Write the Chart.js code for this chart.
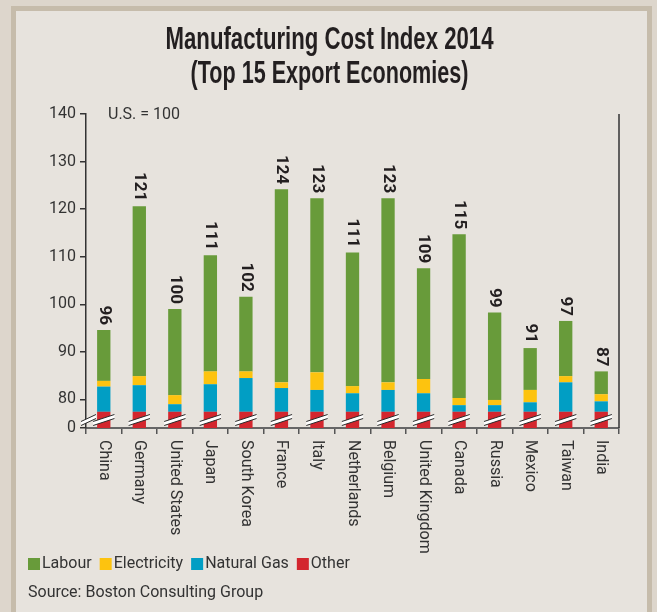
<!DOCTYPE html>
<html>
<head>
<meta charset="utf-8">
<script src="https://cdn.jsdelivr.net/npm/chart.js@4/dist/chart.umd.min.js"></script>
<style>
  html, body { margin: 0; padding: 0; }
  body { width: 657px; height: 612px; overflow: hidden; background: #ddd6cc; position: relative; }
  #frame { position: absolute; left: 11px; top: 6px; width: 641px; height: 606px; box-sizing: border-box;
           border-left: 5px solid #c6bcab; border-right: 5px solid #c6bcab; border-top: 5px solid #c6bcab;
           background: #e7e3dd; }
  #c { position: absolute; left: 0; top: 0; }
</style>
</head>
<body>
<div id="frame"></div>
<canvas id="c" width="657" height="612"></canvas>
<script>
const categories = ['China','Germany','United States','Japan','South Korea','France','Italy','Netherlands','Belgium','United Kingdom','Canada','Russia','Mexico','Taiwan','India'];
const other       = [77.4, 77.4, 77.4, 77.4, 77.4, 77.4, 77.4, 77.4, 77.4, 77.4, 77.4, 77.4, 77.4, 77.4, 77.4];
const naturalGas  = [5.3, 5.6, 1.6, 5.8, 7.1, 5.0, 4.6, 3.9, 4.6, 3.9, 1.4, 1.4, 2.0, 6.2, 2.2];
const electricity = [1.2, 1.9, 1.9, 2.7, 1.4, 1.2, 3.7, 1.5, 1.6, 3.0, 1.5, 1.1, 2.6, 1.3, 1.5];
const labour      = [10.7, 35.7, 18.1, 24.4, 15.7, 40.6, 36.6, 28.1, 38.7, 23.3, 34.4, 18.4, 8.8, 11.6, 4.8];
const totals      = [96, 121, 100, 111, 102, 124, 123, 111, 123, 109, 115, 99, 91, 97, 87];
const yTickValues = [74, 80, 90, 100, 110, 120, 130, 140];
const yTickLabels = ['0', '80', '90', '100', '110', '120', '130', '140'];
const titleLines  = ['Manufacturing Cost Index 2014', '(Top 15 Export Economies)'];
const seriesNames = ['Labour', 'Electricity', 'Natural Gas', 'Other'];
const seriesColors = { 'Labour': '#689b3a', 'Electricity': '#fdc30f', 'Natural Gas': '#019ec4', 'Other': '#d3262e' };
const noteText = 'U.S. = 100';
const sourceText = 'Source: Boston Consulting Group';

const TEXT = '#333333';
const FONT = 'Roboto, "Liberation Sans", sans-serif';

const decor = {
  id: 'decor',
  afterDraw(chart) {
    const ctx = chart.ctx;
    const area = chart.chartArea;
    ctx.save();
    // Title
    ctx.fillStyle = '#231f20';
    ctx.font = 'bold 32px "Liberation Sans Narrow", "Liberation Sans", sans-serif';
    ctx.textAlign = 'center';
    ctx.textBaseline = 'alphabetic';
    ctx.fillText(titleLines[0], 329.5, 49, 328);
    ctx.fillText(titleLines[1], 329.5, 83, 278);
    // right border line
    ctx.strokeStyle = '#333';
    ctx.lineWidth = 1.5;
    ctx.beginPath();
    ctx.moveTo(area.right, area.top);
    ctx.lineTo(area.right, area.bottom);
    ctx.stroke();
    // note
    ctx.fillStyle = TEXT;
    ctx.font = '16px ' + FONT;
    ctx.textAlign = 'left';
    ctx.textBaseline = 'middle';
    ctx.fillText(noteText, 108, area.top + 1);
    // x labels rotated clockwise
    const xs = chart.scales.x;
    ctx.font = '16px ' + FONT;
    categories.forEach((c, i) => {
      const px = xs.getPixelForValue(i);
      ctx.save();
      ctx.translate(px, area.bottom + 12);
      ctx.rotate(Math.PI / 2);
      ctx.textAlign = 'left';
      ctx.textBaseline = 'middle';
      ctx.fillStyle = TEXT;
      ctx.fillText(c, 0, 0);
      ctx.restore();
    });
    // legend
    let lx = 28;
    const ly = 564;
    ctx.font = '16px ' + FONT;
    ctx.textBaseline = 'middle';
    seriesNames.forEach(n => {
      ctx.fillStyle = seriesColors[n];
      ctx.fillRect(lx, ly - 6, 12, 12);
      ctx.fillStyle = TEXT;
      ctx.fillText(n, lx + 14, ly);
      lx += 14 + ctx.measureText(n).width + 8;
    });
    // source
    ctx.fillStyle = TEXT;
    ctx.fillText(sourceText, 28, 593);
    ctx.restore();
  },
  afterDatasetsDraw(chart) {
    const ctx = chart.ctx;
    const area = chart.chartArea;
    const yb = 420;
    ctx.save();
    const drawBreak = (x0, x1) => {
      const dy = 7;
      ctx.fillStyle = '#ffffff';
      ctx.beginPath();
      ctx.moveTo(x0, yb + dy / 2 - 2);
      ctx.lineTo(x1, yb - dy / 2 - 2);
      ctx.lineTo(x1, yb - dy / 2 + 2);
      ctx.lineTo(x0, yb + dy / 2 + 2);
      ctx.closePath();
      ctx.fill();
      ctx.strokeStyle = '#2a2a2a';
      ctx.lineWidth = 1;
      ctx.beginPath();
      ctx.moveTo(x0, yb + dy / 2 - 2);
      ctx.lineTo(x1, yb - dy / 2 - 2);
      ctx.moveTo(x0, yb + dy / 2 + 2);
      ctx.lineTo(x1, yb - dy / 2 + 2);
      ctx.stroke();
    };
    const meta = chart.getDatasetMeta(0);
    meta.data.forEach(bar => {
      drawBreak(bar.x - bar.width / 2 - 4, bar.x + bar.width / 2 + 4);
    });
    drawBreak(area.left - 5, area.left + 10);
    // value labels
    const top = chart.getDatasetMeta(chart.data.datasets.length - 1);
    ctx.fillStyle = '#231f20';
    ctx.font = 'bold 17px ' + FONT;
    top.data.forEach((bar, i) => {
      ctx.save();
      ctx.translate(bar.x, bar.y - 5);
      ctx.rotate(Math.PI / 2);
      ctx.textAlign = 'right';
      ctx.textBaseline = 'middle';
      ctx.fillText(String(totals[i]), 0, 0);
      ctx.restore();
    });
    ctx.restore();
  }
};

const ds = (label, data) => ({
  label, data, backgroundColor: seriesColors[label], borderWidth: 0,
  barPercentage: 0.375, categoryPercentage: 1.0
});

new Chart(document.getElementById('c'), {
  type: 'bar',
  data: {
    labels: categories,
    datasets: [ds('Other', other), ds('Natural Gas', naturalGas), ds('Electricity', electricity), ds('Labour', labour)]
  },
  options: {
    responsive: false,
    devicePixelRatio: 1,
    animation: false,
    layout: { padding: { left: 46, right: 38, top: 114, bottom: 174 } },
    plugins: { legend: { display: false }, title: { display: false }, tooltip: { enabled: false } },
    scales: {
      x: {
        stacked: true,
        offset: true,
        grid: { display: true, drawOnChartArea: false, offset: true, tickLength: 6, color: '#555', lineWidth: 1.5 },
        border: { display: true, color: '#666', width: 2 },
        ticks: { display: false },
        afterFit(s) { s.height = 10; }
      },
      y: {
        stacked: true,
        min: 74, max: 140,
        afterBuildTicks(s) { s.ticks = yTickValues.map(v => ({ value: v })); },
        grid: { display: true, drawOnChartArea: false, tickLength: 6, color: '#333', lineWidth: 1.5 },
        border: { display: true, color: '#333', width: 1.5 },
        ticks: {
          color: TEXT, font: { family: FONT, size: 16 }, padding: 4,
          callback(v) { const k = yTickValues.indexOf(v); return k >= 0 ? yTickLabels[k] : ''; }
        },
        afterFit(s) { s.width = 40; }
      }
    }
  },
  plugins: [decor]
});
</script>
</body>
</html>
